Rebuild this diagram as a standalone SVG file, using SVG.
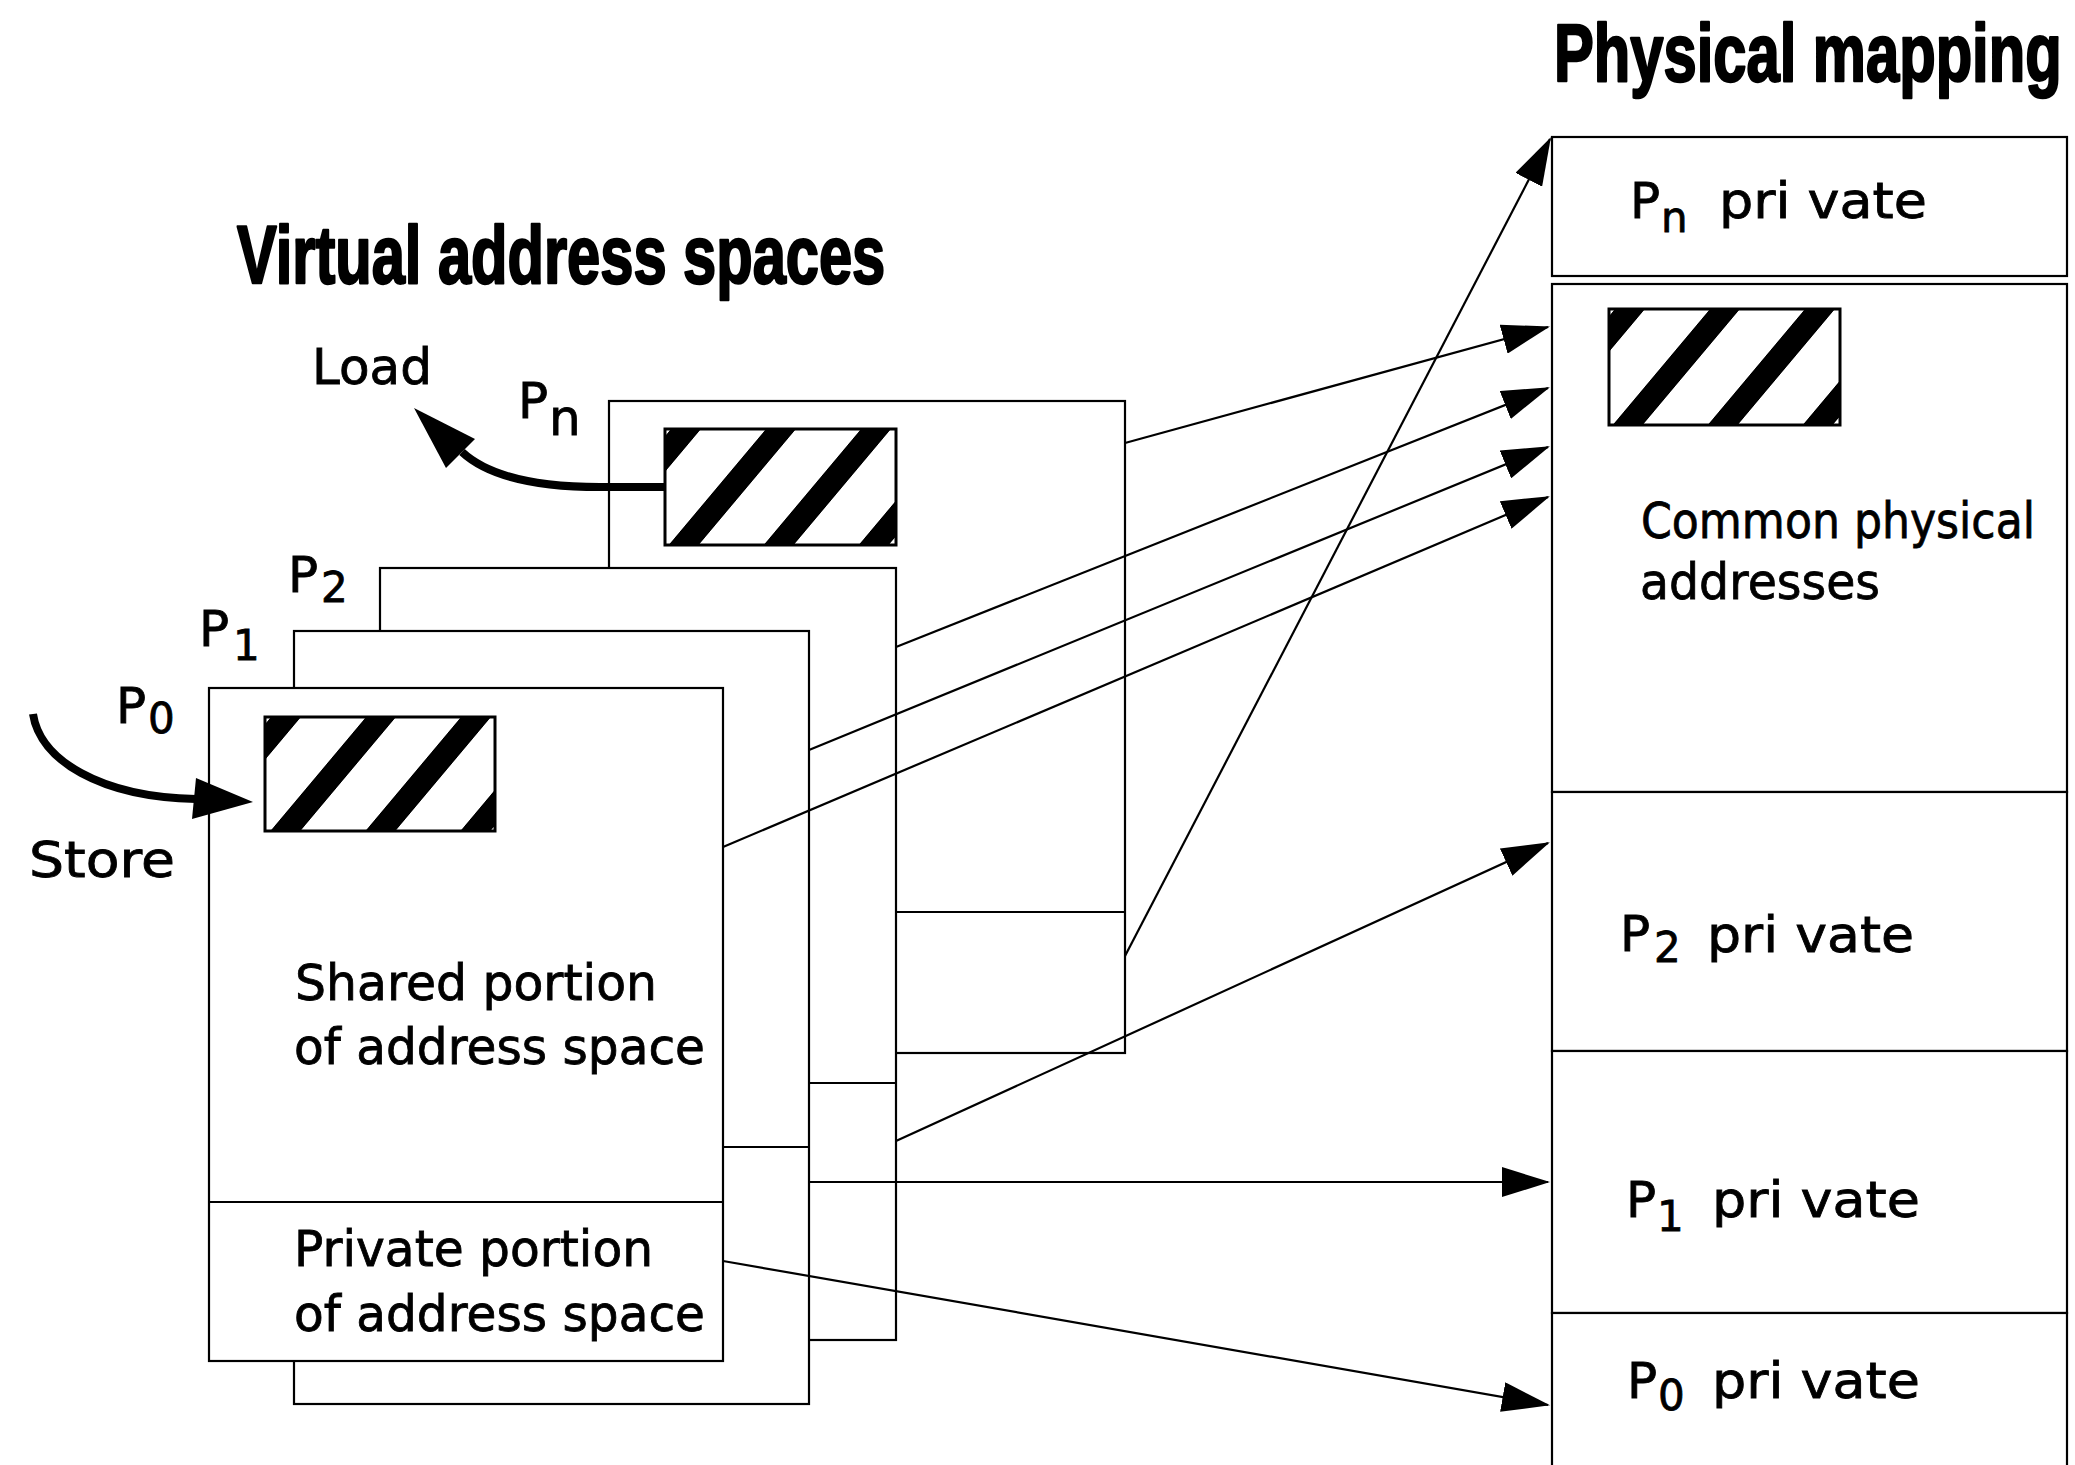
<svg xmlns="http://www.w3.org/2000/svg" width="2075" height="1465" viewBox="0 0 2075 1465">
  <defs>
    <style>
      .box { fill: #fff; stroke: #000; stroke-width: 2.2; }
      .div { stroke: #000; stroke-width: 2.2; }
      .lbl { font-family: "DejaVu Sans", "Noto Sans", sans-serif; fill: #000; stroke: #000; stroke-width: 0.8; font-size: 50px; }
      .sub { font-family: "DejaVu Sans", "Noto Sans", sans-serif; fill: #000; stroke: #000; stroke-width: 0.8; font-size: 42px; }
      .title { font-family: "Liberation Sans", sans-serif; font-weight: bold; font-size: 81px; fill: #000; stroke: #000; stroke-width: 2.4; stroke-linejoin: round; }
      .conn { stroke: #000; stroke-width: 2.2; fill: none; marker-end: url(#arrow); }
      .thick { stroke: #000; stroke-width: 8; fill: none; }
      .hatch { fill: url(#hatch); stroke: #000; stroke-width: 3; }
    </style>
    <!-- diagonal black/white stripes used for the shared data block -->
    <pattern id="hatch" patternUnits="userSpaceOnUse" width="95" height="100" patternTransform="skewX(-40)">
      <rect width="95" height="100" fill="#fff"/>
      <rect x="6" width="30" height="100" fill="#000"/>
    </pattern>
    <marker id="arrow" markerUnits="userSpaceOnUse" viewBox="0 0 48 30" markerWidth="48" markerHeight="30" refX="46" refY="15" orient="auto">
      <path d="M0,0 L48,15 L0,30 z" fill="#000"/>
    </marker>
  </defs>

  <rect width="2075" height="1465" fill="#fff"/>

  <!-- headings (condensed bold) -->
  <g transform="translate(1554,81) scale(0.74,1)">
    <text class="title" x="0" y="0" textLength="686" lengthAdjust="spacingAndGlyphs">Physical mapping</text>
  </g>
  <g transform="translate(237,283) scale(0.74,1)">
    <text class="title" x="0" y="0" textLength="876" lengthAdjust="spacingAndGlyphs">Virtual address spaces</text>
  </g>

  <!-- virtual address spaces, back to front -->
  <g id="vas-pn">
    <rect class="box" x="609" y="401" width="516" height="652"/>
    <line class="div" x1="609" y1="912" x2="1125" y2="912"/>
    <g transform="translate(665,429)"><rect class="hatch" width="231" height="116"/></g>
    <text class="lbl" x="518" y="418" font-size="52">P</text>
    <text class="lbl" x="549" y="435">n</text>
  </g>

  <g id="vas-p2">
    <rect class="box" x="380" y="568" width="516" height="772"/>
    <line class="div" x1="380" y1="1083" x2="896" y2="1083"/>
    <text class="lbl" x="288" y="592" font-size="52">P</text>
    <text class="sub" x="321" y="602">2</text>
  </g>

  <g id="vas-p1">
    <rect class="box" x="294" y="631" width="515" height="773"/>
    <line class="div" x1="294" y1="1147" x2="809" y2="1147"/>
    <text class="lbl" x="199" y="646" font-size="52">P</text>
    <text class="sub" x="233" y="660">1</text>
  </g>

  <g id="vas-p0">
    <rect class="box" x="209" y="688" width="514" height="673"/>
    <line class="div" x1="209" y1="1202" x2="723" y2="1202"/>
    <g transform="translate(265,717)"><rect class="hatch" width="230" height="114"/></g>
    <text class="lbl" x="295" y="1000" textLength="362" lengthAdjust="spacingAndGlyphs">Shared portion</text>
    <text class="lbl" x="294" y="1064" textLength="411" lengthAdjust="spacingAndGlyphs">of address space</text>
    <text class="lbl" x="294" y="1266" textLength="359" lengthAdjust="spacingAndGlyphs">Private portion</text>
    <text class="lbl" x="294" y="1331" textLength="411" lengthAdjust="spacingAndGlyphs">of address space</text>
    <text class="lbl" x="116" y="723" font-size="48">P</text>
    <text class="sub" x="148" y="733">0</text>
  </g>

  <!-- physical memory -->
  <g id="phys-pn-private">
    <rect class="box" x="1552" y="137" width="515" height="139"/>
    <text class="lbl" x="1630" y="218" font-size="48">P</text>
    <text class="sub" x="1661" y="232" font-size="42">n</text>
    <text class="lbl" x="1719" y="218" textLength="208" lengthAdjust="spacingAndGlyphs">pri vate</text>
  </g>

  <g id="phys-common">
    <rect class="box" x="1552" y="284" width="515" height="508"/>
    <g transform="translate(1609,309)"><rect class="hatch" width="231" height="116"/></g>
    <g transform="translate(1641,538) scale(0.864,1)">
      <text class="lbl" x="0" y="0" textLength="456" lengthAdjust="spacingAndGlyphs">Common physical</text>
    </g>
    <text class="lbl" x="1640" y="599" textLength="240" lengthAdjust="spacingAndGlyphs">addresses</text>
  </g>

  <g id="phys-p2-private">
    <rect class="box" x="1552" y="792" width="515" height="259"/>
    <text class="lbl" x="1620" y="951" font-size="48">P</text>
    <text class="sub" x="1654" y="962">2</text>
    <text class="lbl" x="1707" y="952" textLength="207" lengthAdjust="spacingAndGlyphs">pri vate</text>
  </g>

  <g id="phys-p1-private">
    <rect class="box" x="1552" y="1051" width="515" height="262"/>
    <text class="lbl" x="1626" y="1217" font-size="48">P</text>
    <text class="sub" x="1657" y="1231">1</text>
    <text class="lbl" x="1712" y="1217" textLength="208" lengthAdjust="spacingAndGlyphs">pri vate</text>
  </g>

  <g id="phys-p0-private">
    <rect class="box" x="1552" y="1313" width="515" height="180"/>
    <text class="lbl" x="1627" y="1398" font-size="48">P</text>
    <text class="sub" x="1658" y="1410">0</text>
    <text class="lbl" x="1712" y="1398" textLength="208" lengthAdjust="spacingAndGlyphs">pri vate</text>
  </g>

  <!-- labels for the load / store operations -->
  <text class="lbl" x="312" y="384" font-size="52" textLength="120" lengthAdjust="spacingAndGlyphs">Load</text>
  <text class="lbl" x="29" y="877" font-size="46" textLength="146" lengthAdjust="spacingAndGlyphs">Store</text>

  <!-- mappings and memory operations -->
  <g id="connectors">
    <path class="conn" d="M1125,443 L1548,327"/>
    <path class="conn" d="M896,647 L1548,388"/>
    <path class="conn" d="M809,750 L1548,447"/>
    <path class="conn" d="M723,847 L1548,497"/>
    <path class="conn" d="M1125,956 L1550,139"/>
    <path class="conn" d="M896,1141 L1548,843"/>
    <path class="conn" d="M809,1182 L1548,1182"/>
    <path class="conn" d="M723,1261 L1548,1405"/>

    <!-- load from Pn's copy -->
    <path class="thick" d="M665,487 L600,487 C540,487 490,478 462,452"/>
    <polygon points="414,408 475,439 446,468" fill="#000"/>

    <!-- store into P0's copy -->
    <path class="thick" d="M33,714 C40,760 100,797 196,799"/>
    <polygon points="253,802 196,778 192,819" fill="#000"/>
  </g>
</svg>
